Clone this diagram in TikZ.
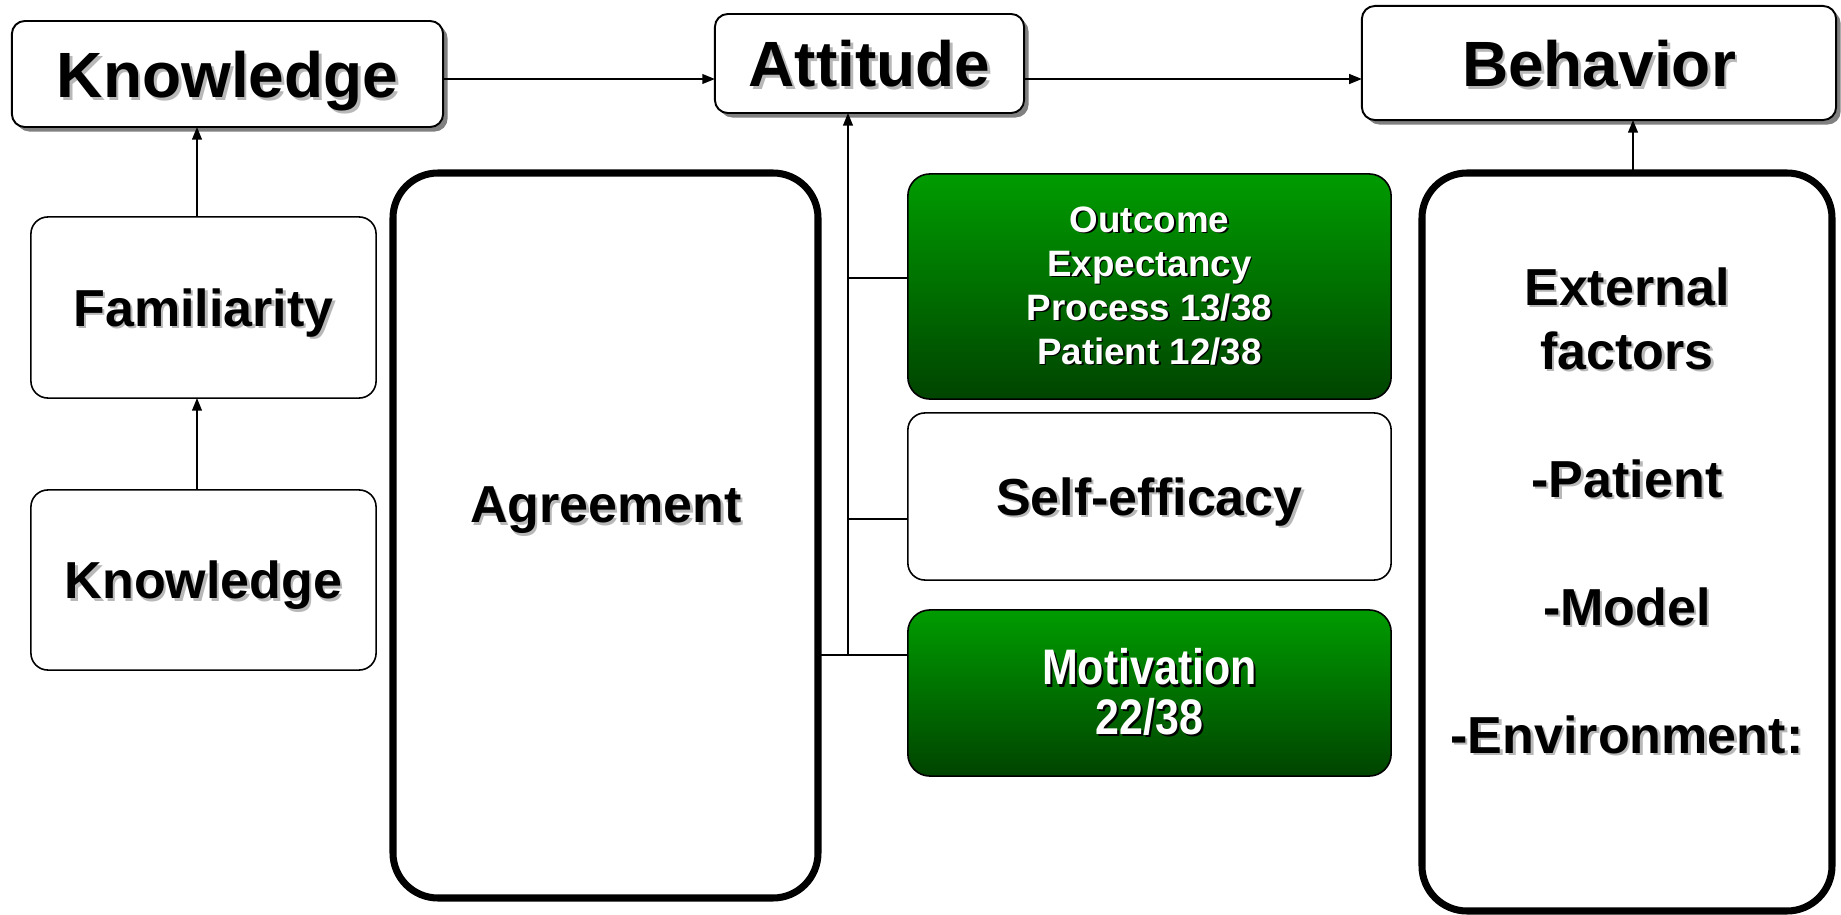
\documentclass[tikz,border=0pt]{standalone}
\usepackage{fontspec}
\setmainfont{Liberation Sans}
\usetikzlibrary{arrows.meta,shadows,fit,calc}
\definecolor{shg}{gray}{0.72}
\definecolor{gtop}{RGB}{0,156,0}
\definecolor{gbot}{RGB}{0,68,0}
\newcommand\sh[1]{\leavevmode\rlap{\kern0.045em\raisebox{-0.045em}{\textcolor{shg}{#1}}}#1}
\newcommand\shw[1]{\leavevmode\rlap{\kern0.045em\raisebox{-0.045em}{\textcolor{black}{#1}}}\textcolor{white}{#1}}
\begin{document}
\begin{tikzpicture}[x=0.01cm,y=-0.01cm,
  basebox/.style={draw=black, line width=0.45pt, fill=white, inner sep=0pt, outer sep=0pt, align=center},
  topbox/.style={basebox, line width=0.55pt, rounded corners=0.13cm, text depth=0pt,
     drop shadow={shadow xshift=0.045cm, shadow yshift=-0.045cm, fill=black!50, opacity=1},
     font=\fontsize{18.2}{21}\selectfont\bfseries},
  kbox/.style={basebox, rounded corners=0.17cm, text depth=0pt, font=\fontsize{14.8}{18.2}\selectfont\bfseries},
  bigbox/.style={basebox, line width=2pt, rounded corners=0.45cm},
  gbox/.style={basebox, rounded corners=0.22cm, top color=gtop, bottom color=gbot},
  arr/.style={line width=0.45pt, -{Triangle[length=3.6pt,width=2.8pt]}},
  ln/.style={line width=0.45pt}]
\useasboundingbox (0,0) rectangle (1841,915);

% top row
\node[topbox, minimum width=4.31cm, minimum height=1.06cm] (K1) at (227.5,74) {\sh{Knowledge}};
\node[topbox, minimum width=3.09cm, minimum height=0.99cm] (Att) at (869.5,63.5) {\sh{Attitude}};
\node[topbox, minimum width=4.74cm, minimum height=1.14cm] (Beh) at (1599,63) {\sh{Behavior}};

% left column
\node[kbox, minimum width=3.45cm, minimum height=1.81cm] (Fam) at (203.5,307.5) {\sh{Familiarity}};
\node[kbox, minimum width=3.45cm, minimum height=1.80cm] (K2) at (203.5,580) {\sh{Knowledge}};

% big boxes
\node[bigbox, fit={(393,173)(818,898)}] (Agr) {};
\node[font=\fontsize{14.8}{18.2}\selectfont\bfseries, text depth=0pt] (AgrT) at (606,505) {\sh{Agreement}};
\node[bigbox, fit={(1422,173)(1832,911)}] (Ext) {};
\node[font=\fontsize{14.8}{18.2}\selectfont\bfseries, align=center] (ExtT) at (1627,512)
  {\sh{External}\\\sh{factors}\\~\\\sh{-Patient}\\~\\\sh{-Model}\\~\\\sh{-Environment:}};

% middle column
\node[gbox, minimum width=4.83cm, minimum height=2.25cm, font=\fontsize{10.45}{12.5}\selectfont\bfseries] (Out) at (1149.5,286.5)
  {\shw{Outcome}\\\shw{Expectancy}\\\shw{Process 13/38}\\\shw{Patient 12/38}};
\node[kbox, minimum width=4.83cm, minimum height=1.67cm] (Self) at (1149.5,496.5) {\sh{Self-efficacy}};
\node[gbox, minimum width=4.83cm, minimum height=1.66cm, font=\fontsize{14.2}{14}\selectfont\bfseries] (Mot) at (1149.5,693)
  {\scalebox{0.86}[1]{\shw{Motivation}}\\\scalebox{0.86}[1]{\shw{22/38}}};

% connectors
\coordinate (r1) at (0,79);
\draw[arr] (K1.east |- r1) -- (Att.west |- r1);
\draw[arr] (Att.east |- r1) -- (Beh.west |- r1);

\coordinate (cx) at (197,0);
\draw[arr] (Fam.north -| cx) -- (K1.south -| cx);
\draw[arr] (K2.north -| cx) -- (Fam.south -| cx);

\coordinate (m) at (848,655);
\coordinate (o1) at (848,278);
\coordinate (s1) at (848,519);
\draw[ln] (Agr.east |- m) -- (Mot.west |- m);
\draw[arr] (m) -- (Att.south -| m);
\draw[ln] (o1) -- (o1 -| Out.west);
\draw[ln] (s1) -- (s1 -| Self.west);

\coordinate (e1) at (1633,0);
\draw[arr] (Ext.north -| e1) -- (Beh.south -| e1);
\end{tikzpicture}
\end{document}
